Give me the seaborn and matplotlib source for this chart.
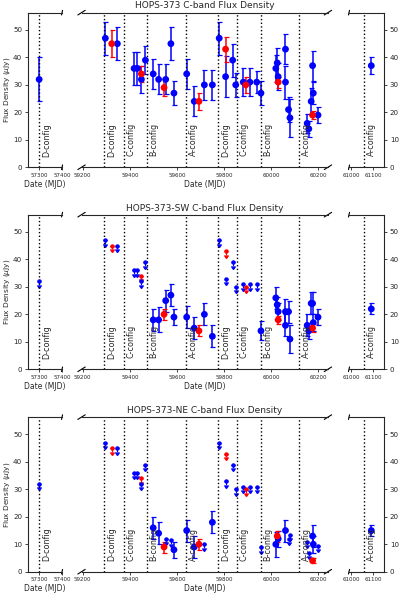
import numpy as np
import pandas as pd
import matplotlib
matplotlib.use('Agg')
import matplotlib.pyplot as plt
import seaborn as sns

# array configuration changes
config_mjd = [57300, 59292, 59375, 59471, 59638, 59775, 59853, 59956, 60118, 61057]
config_name = ['D-config', 'D-config', 'C-config', 'B-config', 'A-config',
               'D-config', 'C-config', 'B-config', 'A-config', 'A-config']

# HOPS-373 total
tot_b_mjd = [57300, 59296, 59347, 59418, 59432, 59449, 59466, 59499, 59522, 59552,
             59574, 59587, 59641, 59673, 59716, 59750, 59779, 59806, 59836, 59849,
             59881, 59909, 59938, 59956, 60019, 60025, 60029, 60060, 60060, 60073,
             60079, 60152, 60159, 60169, 60175, 60178, 60198, 61091]
tot_b_flux = [32, 47, 45, 36, 36, 32, 39, 34, 32, 32,
              45, 27, 34, 24, 30, 30, 47, 33, 39, 30,
              31, 31, 31, 27, 36, 38, 33, 43, 31, 21,
              18, 16, 14, 24, 37, 27, 19, 37]
tot_b_err = [8, 6, 6, 6, 6, 5, 5, 5.5, 5.5, 5.5,
             6, 4.5, 5.5, 5.5, 5.5, 5.5, 6, 7.5, 6, 4.5,
             5, 5, 4, 4.5, 5, 5.5, 5, 5.5, 6, 4.5,
             7, 3.5, 3, 5, 5.5, 4, 3, 3]
tot_r_mjd = [59323, 59449, 59545, 59693, 59806, 59892, 60029, 60175]
tot_r_flux = [45, 34, 29, 24, 43, 30, 31, 19]
tot_r_err = [5, 3, 3, 3, 4.5, 3, 2, 1.5]

# HOPS-373-SW
sw_b_mjd = [59499, 59522, 59552, 59574, 59587, 59641, 59673, 59716, 59750, 59956,
            60019, 60025, 60029, 60060, 60060, 60073, 60079, 60152, 60159, 60169,
            60175, 60178, 60198, 61091]
sw_b_flux = [18, 18, 25, 27, 19, 19, 15, 20, 12, 14,
             26, 23.5, 21, 21, 16, 21, 11, 16, 14, 24,
             24, 17, 19, 22]
sw_b_err = [4, 4.5, 4, 4, 3, 4, 4, 4, 4, 3.5,
            4, 3, 3, 4.5, 4, 4, 5, 4, 3, 4,
            4, 3, 3, 2]
sw_r_mjd = [59545, 59693, 60029, 60175]
sw_r_flux = [20, 14, 18, 15]
sw_r_err = [2, 2, 1.5, 1.5]
sw_bul_mjd = [57300, 59296, 59347, 59418, 59432, 59449, 59466, 59779, 59806, 59836,
              59849, 59881, 59909, 59938]
sw_bul_flux = [32, 47, 45, 36, 36, 32, 39, 47, 33, 39, 30, 31, 31, 31]
sw_rul_mjd = [59323, 59449, 59806, 59892]
sw_rul_flux = [45, 34, 43, 30]

# HOPS-373-NE
ne_b_mjd = [59499, 59522, 59587, 59641, 59673, 59750, 60019, 60029, 60060, 60175,
            60178, 61091]
ne_b_flux = [16, 14, 8, 15, 9, 18, 10, 12, 15, 13, 10, 15]
ne_b_err = [4, 4, 3, 4, 4, 4, 4.5, 3, 4, 4, 3, 2]
ne_r_mjd = [59545, 59693, 60025, 60175]
ne_r_flux = [9, 10, 13, 4]
ne_r_err = [2, 2, 2, 1]
ne_bul_mjd = [57300, 59296, 59347, 59418, 59432, 59449, 59466, 59552, 59574, 59716,
              59779, 59806, 59836, 59849, 59881, 59909, 59938, 59956, 60073, 60079,
              60152, 60159, 60198]
ne_bul_flux = [32, 47, 45, 36, 36, 32, 39, 12, 11.5, 10,
               47, 33, 39, 30, 31, 31, 31, 9, 12, 13.5,
               11, 7, 9.5]
ne_rul_mjd = [59323, 59449, 59806, 59892]
ne_rul_flux = [45, 34, 43, 30]

seg_xlim = [(57250, 57400), (59195, 60240), (60990, 61150)]
seg_xticks = [[57300, 57400], [59200, 59400, 59600, 59800, 60000, 60200], [61000, 61100]]

sns.set_style('ticks')
plt.rcParams['font.family'] = ['DejaVu Sans']

fig = plt.figure(figsize=(4, 5.94), dpi=100)

seg_pos = [(0.0693, 0.0858), (0.2038, 0.616), (0.8725, 0.0883)]
row_bottom = [0.7184, 0.3783, 0.0375]
row_h = 0.2603

panels = [
    ('HOPS-373 C-band Flux Density', (tot_b_mjd, tot_b_flux, tot_b_err),
     (tot_r_mjd, tot_r_flux, tot_r_err), None, None),
    ('HOPS-373-SW C-band Flux Density', (sw_b_mjd, sw_b_flux, sw_b_err),
     (sw_r_mjd, sw_r_flux, sw_r_err), (sw_bul_mjd, sw_bul_flux), (sw_rul_mjd, sw_rul_flux)),
    ('HOPS-373-NE C-band Flux Density', (ne_b_mjd, ne_b_flux, ne_b_err),
     (ne_r_mjd, ne_r_flux, ne_r_err), (ne_bul_mjd, ne_bul_flux), (ne_rul_mjd, ne_rul_flux)),
]

d = 0.015
brk_kw = dict(color='k', lw=0.8, clip_on=False)


def brk(ax, x):
    ax.plot((x - d, x + d), (-d, d), transform=ax.transAxes, **brk_kw)
    ax.plot((x - d, x + d), (1 - d, 1 + d), transform=ax.transAxes, **brk_kw)


for row, (title, bdet, rdet, bul, rul) in enumerate(panels):
    for i, (left, width) in enumerate(seg_pos):
        ax = fig.add_axes([left, row_bottom[row], width, row_h])

        # detections
        for (mjd, flux, err), col in [(bdet, 'blue'), (rdet, 'red')]:
            ax.errorbar(mjd, flux, yerr=err, fmt='none', ecolor=col,
                        elinewidth=1.1, capsize=1.8, capthick=0.9)
            sns.scatterplot(x=mjd, y=flux, color=col, s=24, edgecolor='none',
                            linewidth=0, ax=ax, zorder=2.5)
        # upper limits
        for lim, col in [(bul, 'blue'), (rul, 'red')]:
            if lim is None:
                continue
            mjd, flux = lim
            ax.errorbar(mjd, flux, yerr=1.3, uplims=True, fmt='o', ms=2.2,
                        color=col, elinewidth=0.8, capsize=1.2)

        for xc, name in zip(config_mjd, config_name):
            if seg_xlim[i][0] < xc < seg_xlim[i][1]:
                ax.axvline(xc, color='k', ls=':', lw=1)
                ax.annotate(name, (xc, 10), xytext=(2.0, 0), textcoords='offset points',
                            rotation=90, va='center', ha='left', fontsize=5.8)

        ax.set_xlim(seg_xlim[i])
        ax.set_ylim(0, 56.3)
        ax.set_xticks(seg_xticks[i])
        ax.set_yticks([0, 10, 20, 30, 40, 50])
        ax.tick_params(axis='x', labelsize=4, length=2.5, width=0.6, pad=1.5)
        ax.tick_params(axis='y', labelsize=5.1, length=2.5, width=0.6, pad=1.5)
        for sp in ax.spines.values():
            sp.set_linewidth(0.8)

        if i == 0:
            ax.spines['right'].set_visible(False)
            ax.set_ylabel(r'Flux Density ($\mu$Jy)', fontsize=5.3, labelpad=1)
            ax.set_xlabel('Date (MJD)', fontsize=5.5, labelpad=1.5)
            brk(ax, 1)
        elif i == 1:
            ax.spines['left'].set_visible(False)
            ax.spines['right'].set_visible(False)
            ax.tick_params(axis='y', left=False, labelleft=False)
            ax.set_xlabel('Date (MJD)', fontsize=5.5, labelpad=1.5)
            ax.set_title(title, fontsize=6.5, pad=3)
            brk(ax, 0)
            brk(ax, 1)
        else:
            ax.spines['left'].set_visible(False)
            ax.yaxis.tick_right()
            brk(ax, 0)

fig.savefig('out.png', dpi=100)
